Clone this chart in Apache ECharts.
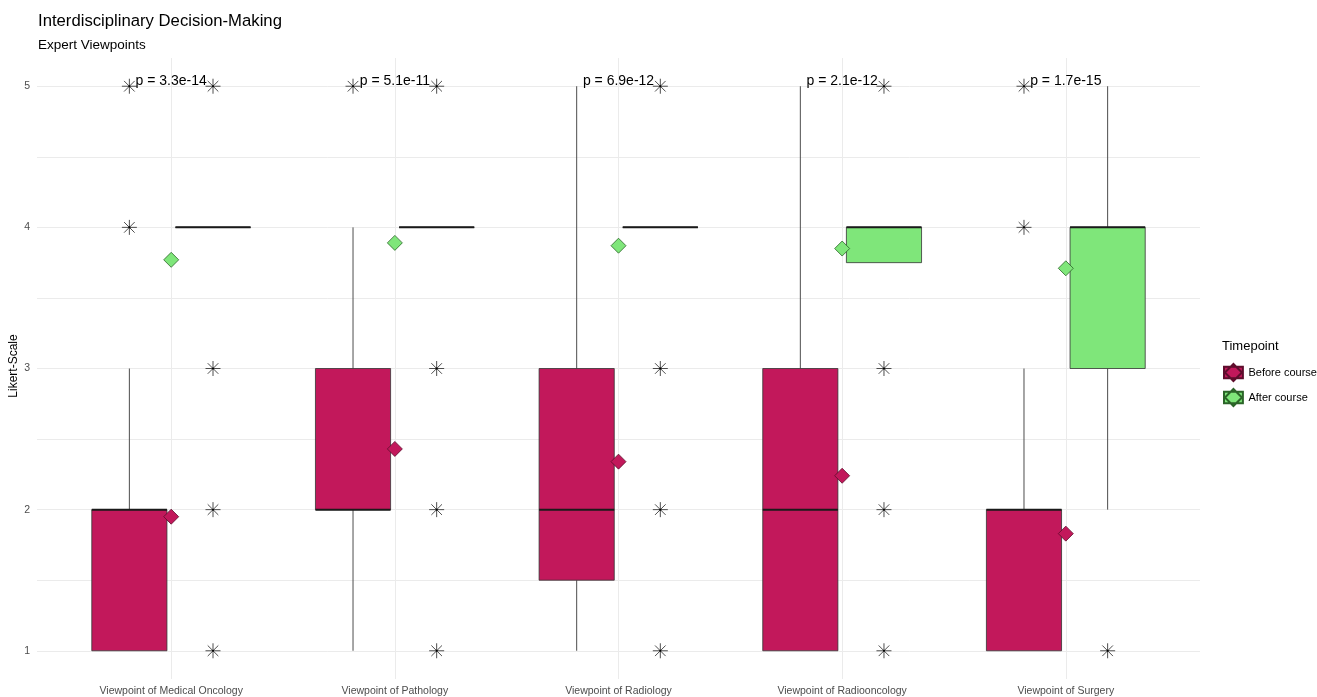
<!DOCTYPE html>
<html>
<head>
<meta charset="utf-8">
<script src="https://cdn.jsdelivr.net/npm/echarts@6/dist/echarts.min.js"></script>
<style>
  html, body { margin: 0; padding: 0; background: #fff; }
  #chart { width: 1317px; height: 697px; }
</style>
</head>
<body>
<div id="chart"></div>
<script>
// ---- data ----
var categories = ['Viewpoint of Medical Oncology', 'Viewpoint of Pathology', 'Viewpoint of Radiology', 'Viewpoint of Radiooncology', 'Viewpoint of Surgery'];
var groups = ['Before course', 'After course'];
// [lowWhisker, q1, median, q3, highWhisker]
var boxBefore = [
  [1, 1, 2, 2, 3],
  [1, 2, 2, 3, 4],
  [1, 1.5, 2, 3, 5],
  [1, 1, 2, 3, 5],
  [1, 1, 2, 2, 3]
];
var boxAfter = [
  [4, 4, 4, 4, 4],
  [4, 4, 4, 4, 4],
  [4, 4, 4, 4, 4],
  [3.75, 3.75, 4, 4, 4],
  [2, 3, 4, 4, 5]
];
var meanBefore = [1.95, 2.43, 2.34, 2.24, 1.83];
var meanAfter = [3.77, 3.89, 3.87, 3.85, 3.71];
var outliersBefore = [[4, 5], [5], [], [], [4, 5]];
var outliersAfter = [[1, 2, 3, 5], [1, 2, 3, 5], [1, 2, 3, 5], [1, 2, 3, 5], [1]];
var pValues = ['p = 3.3e-14', 'p = 5.1e-11', 'p = 6.9e-12', 'p = 2.1e-12', 'p = 1.7e-15'];
var xTicks = [1, 2, 3, 4, 5];
var yTicks = [1, 2, 3, 4, 5];
var yGrid = [1, 1.5, 2, 2.5, 3, 3.5, 4, 4.5, 5];
var yTitle = 'Likert-Scale';

var colors = ['#C2185B', '#7FE67A'];
var borders = ['#5e0d2c', '#2b6428'];
var DODGE = 0.187;
var BOXW = 0.336;

// ---- build series data ----
function boxData(arr, g) {
  return arr.map(function (b, i) {
    var x = i + 1 + (g === 0 ? -DODGE : DODGE);
    return [x].concat(b);
  });
}
function outData(arr, g) {
  var out = [];
  arr.forEach(function (vals, i) {
    var x = i + 1 + (g === 0 ? -DODGE : DODGE);
    vals.forEach(function (v) { out.push([x, v]); });
  });
  return out;
}
function meanData(arr) {
  return arr.map(function (v, i) { return [i + 1, v]; });
}

function boxRender(g) {
  return function (params, api) {
    var x = api.value(0);
    var lo = api.coord([x, api.value(1)]);
    var q1 = api.coord([x, api.value(2)]);
    var med = api.coord([x, api.value(3)]);
    var q3 = api.coord([x, api.value(4)]);
    var hi = api.coord([x, api.value(5)]);
    var left = api.coord([x - BOXW / 2, 0])[0];
    var right = api.coord([x + BOXW / 2, 0])[0];
    var cx = q1[0];
    var children = [];
    children.push({ type: 'line', shape: { x1: cx, y1: q3[1], x2: cx, y2: hi[1] }, style: { stroke: '#4d4d4d', lineWidth: 1 } });
    children.push({ type: 'line', shape: { x1: cx, y1: q1[1], x2: cx, y2: lo[1] }, style: { stroke: '#4d4d4d', lineWidth: 1 } });
    children.push({ type: 'rect', shape: { x: left, y: q3[1], width: right - left, height: q1[1] - q3[1] }, style: { fill: colors[g], stroke: '#333', lineWidth: 0.8 } });
    children.push({ type: 'line', shape: { x1: left, y1: med[1], x2: right, y2: med[1] }, style: { stroke: '#1a1a1a', lineWidth: 2 } });
    return { type: 'group', children: children };
  };
}

function starRender(params, api) {
  var p = api.coord([api.value(0), api.value(1)]);
  var r = 7.5, d = 5.3;
  var st = { stroke: '#3a3a3a', lineWidth: 0.9 };
  return { type: 'group', children: [
    { type: 'line', shape: { x1: p[0] - r, y1: p[1], x2: p[0] + r, y2: p[1] }, style: st },
    { type: 'line', shape: { x1: p[0], y1: p[1] - r, x2: p[0], y2: p[1] + r }, style: st },
    { type: 'line', shape: { x1: p[0] - d, y1: p[1] - d, x2: p[0] + d, y2: p[1] + d }, style: st },
    { type: 'line', shape: { x1: p[0] - d, y1: p[1] + d, x2: p[0] + d, y2: p[1] - d }, style: st },
    { type: 'circle', shape: { cx: p[0], cy: p[1], r: 1 }, style: { fill: '#000' } }
  ]};
}

var chart = echarts.init(document.getElementById('chart'), null, { renderer: 'canvas' });
var FONT = 'Liberation Sans, Arial, sans-serif';
var KEY = 'path://M0,3 L20,3 L20,15 L0,15 Z M10,0 L19,9 L10,18 L1,9 Z';

var option = {
  backgroundColor: '#fff',
  animation: false,
  textStyle: { fontFamily: FONT },
  title: [
    { text: 'Interdisciplinary Decision-Making', left: 33, top: 8, textStyle: { fontSize: 16.7, fontWeight: 'normal', color: '#000', fontFamily: FONT } },
    { text: 'Expert Viewpoints', left: 33, top: 33, textStyle: { fontSize: 13.5, fontWeight: 'normal', color: '#000', fontFamily: FONT } },
    { text: 'Timepoint', left: 1217, top: 335, textStyle: { fontSize: 13, fontWeight: 'normal', color: '#000', fontFamily: FONT } }
  ],
  graphic: [
    { type: 'text', x: 14, y: 366, rotation: Math.PI / 2, style: { text: yTitle, fill: '#000', font: '12px ' + FONT, textAlign: 'center', textVerticalAlign: 'middle' } }
  ],
  legend: {
    data: groups,
    orient: 'vertical',
    left: 1218,
    top: 358,
    itemWidth: 20,
    itemHeight: 17,
    itemGap: 6,
    icon: KEY,
    textStyle: { fontSize: 11, color: '#000', fontFamily: FONT }
  },
  grid: { left: 37, right: 117, top: 58, bottom: 18, containLabel: false, outerBoundsMode: 'none' },
  xAxis: {
    type: 'value',
    min: 0.4,
    max: 5.6,
    axisLine: { show: false },
    axisTick: { show: false, customValues: xTicks },
    axisLabel: {
      customValues: xTicks,
      formatter: function (v) { return categories[Math.round(v) - 1]; },
      fontSize: 10.5, color: '#4d4d4d', margin: 7, fontFamily: FONT
    },
    splitLine: { show: true, lineStyle: { color: '#ebebeb', width: 1 } }
  },
  yAxis: {
    type: 'value',
    min: 0.8,
    max: 5.2,
    axisLine: { show: false },
    axisTick: { show: false, customValues: yGrid },
    axisLabel: { customValues: yTicks, fontSize: 10.5, color: '#4d4d4d', margin: 7, fontFamily: FONT },
    splitLine: { show: true, lineStyle: { color: '#ebebeb', width: 1 } }
  },
  series: [
    { name: 'boxBefore', type: 'custom', renderItem: boxRender(0), data: boxData(boxBefore, 0), z: 2, encode: { x: 0, y: [1, 2, 3, 4, 5] } },
    { name: 'boxAfter', type: 'custom', renderItem: boxRender(1), data: boxData(boxAfter, 1), z: 2, encode: { x: 0, y: [1, 2, 3, 4, 5] } },
    { name: 'outBefore', type: 'custom', renderItem: starRender, data: outData(outliersBefore, 0), z: 3 },
    { name: 'outAfter', type: 'custom', renderItem: starRender, data: outData(outliersAfter, 1), z: 3 },
    {
      name: groups[0], type: 'scatter', symbol: 'diamond', symbolSize: 15, data: meanData(meanBefore), z: 5,
      itemStyle: { color: colors[0], borderColor: borders[0], borderWidth: 0.8, opacity: 1 }
    },
    {
      name: groups[1], type: 'scatter', symbol: 'diamond', symbolSize: 15, data: meanData(meanAfter), z: 5,
      itemStyle: { color: colors[1], borderColor: borders[1], borderWidth: 0.8, opacity: 1 }
    },
    {
      name: 'pvals', type: 'custom', z: 6,
      data: pValues.map(function (p, i) { return [i + 1, 5]; }),
      renderItem: function (params, api) {
        var p = api.coord([api.value(0), api.value(1)]);
        return { type: 'text', x: p[0], y: p[1] + 2, style: { text: pValues[params.dataIndex], fill: '#000', font: '14px ' + FONT, textAlign: 'center', textVerticalAlign: 'bottom' } };
      }
    }
  ]
};
chart.setOption(option);
</script>
</body>
</html>
